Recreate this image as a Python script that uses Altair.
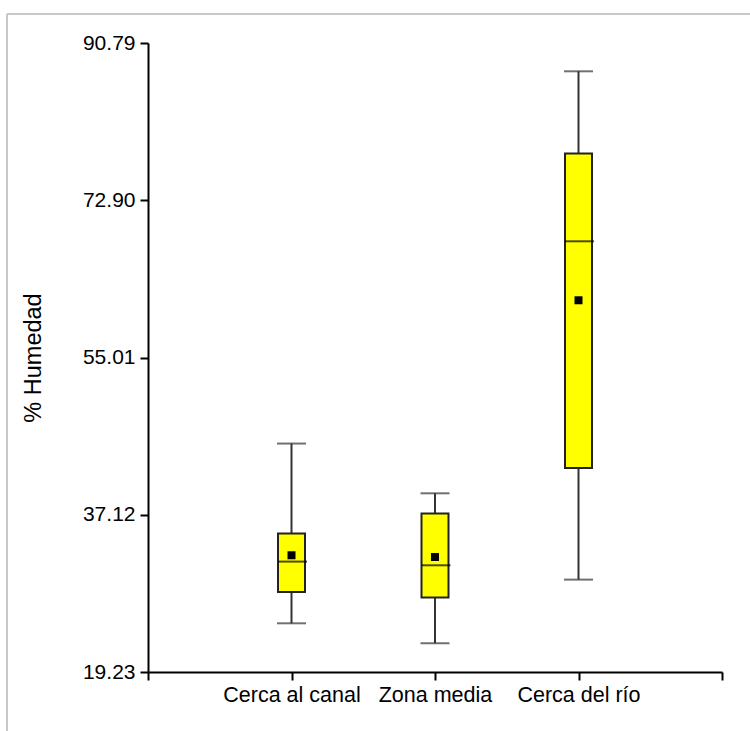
import altair as alt
import pandas as pd

# Box-plot summary per sampling zone (% soil moisture)
zones = ["Cerca al canal", "Zona media", "Cerca del río"]
whisker_low = [24.77, 22.50, 29.74]
q1 = [28.33, 27.70, 42.44]
median = [31.79, 31.37, 68.23]
q3 = [34.98, 37.25, 78.21]
whisker_high = [45.22, 39.56, 87.57]
mean = [32.51, 32.31, 61.52]

y_ticks = [19.23, 37.12, 55.01, 72.90, 90.79]

df = pd.DataFrame({
    "pos": list(range(1, len(zones) + 1)),
    "zone": zones,
    "lo": whisker_low,
    "q1": q1,
    "med": median,
    "q3": q3,
    "hi": whisker_high,
    "mean": mean,
})

W, H = 574, 629
FONT = "Liberation Sans"

label_expr = " : ".join(
    [f"datum.value == {i + 1} ? '{z}'" for i, z in enumerate(zones)] + ["''"]
)

x = alt.X(
    "pos:Q",
    scale=alt.Scale(domain=[0, len(zones) + 1], nice=False, zero=False, padding=0),
    axis=alt.Axis(
        values=list(range(0, len(zones) + 2)),
        labelExpr=label_expr,
        title=None,
        grid=False,
        domainColor="black",
        domainWidth=2,
        tickColor="black",
        tickWidth=2,
        tickSize=8,
        labelFont=FONT,
        labelFontSize=21.5,
        labelColor="black",
        labelPadding=4,
        labelFlush=False,
    ),
)

y_scale = alt.Scale(domain=[y_ticks[0], y_ticks[-1]], nice=False, zero=False, padding=0)
y_axis = alt.Axis(
    values=y_ticks,
    format=".2f",
    title="% Humedad",
    titleFont=FONT,
    titleFontSize=23.5,
    titleFontWeight="normal",
    titleColor="black",
    titleAngle=270,
    titleX=-115,
    titleY=H / 2,
    titleAlign="center",
    titleBaseline="middle",
    grid=False,
    domainColor="black",
    domainWidth=2,
    tickColor="black",
    tickWidth=2,
    tickSize=8,
    labelFont=FONT,
    labelFontSize=21,
    labelColor="black",
    labelPadding=5,
)

base = alt.Chart(df)

whiskers = base.mark_rule(color="#333333", strokeWidth=2).encode(
    x=x, y=alt.Y("lo:Q", scale=y_scale, axis=y_axis), y2="hi:Q"
)

caps_low = base.mark_tick(color="#333333", thickness=2, size=29, orient="horizontal").encode(
    x="pos:Q", y="lo:Q"
)
caps_high = base.mark_tick(color="#333333", thickness=2, size=29, orient="horizontal").encode(
    x="pos:Q", y="hi:Q"
)

boxes = base.mark_bar(size=27, color="#FFFF00", stroke="#222222", strokeWidth=2).encode(
    x="pos:Q", y="q1:Q", y2="q3:Q"
)

medians = base.mark_tick(color="black", thickness=2, size=29, orient="horizontal", xOffset=1).encode(
    x="pos:Q", y="med:Q"
)

means = base.mark_square(color="black", size=64, opacity=1).encode(
    x="pos:Q", y="mean:Q"
)

# light grey frame around the figure
frame_df = pd.DataFrame({"k": [0]})
frame_top = alt.Chart(frame_df).mark_rule(color="#c8c8c8", strokeWidth=2).encode(
    x=alt.value(-141), x2=alt.value(W + 40), y=alt.value(-29)
)
frame_left = alt.Chart(frame_df).mark_rule(color="#c8c8c8", strokeWidth=2).encode(
    x=alt.value(-141), y=alt.value(-29), y2=alt.value(H + 70)
)

chart = (
    alt.layer(frame_top, frame_left, whiskers, caps_low, caps_high, boxes, medians, means)
    .properties(
        width=W,
        height=H,
        padding={"left": 148, "top": 43, "right": 28, "bottom": 59},
        autosize=alt.AutoSizeParams(type="none"),
        background="white",
    )
    .configure_view(stroke=None)
)

chart.save("out.html", embed_options={"renderer": "svg", "actions": False})
